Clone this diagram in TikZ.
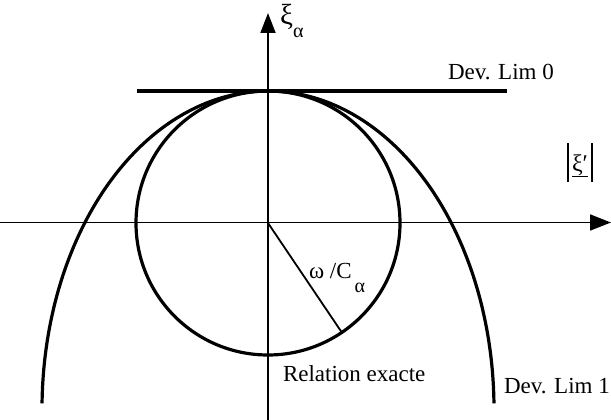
\documentclass[tikz,border=0pt]{standalone}
\usepackage{fontspec}
\setmainfont{Liberation Serif}
\usetikzlibrary{arrows.meta}
\begin{document}
\begin{tikzpicture}[x=1pt,y=-1pt,
  curve/.style={line width=3.2pt},
  axis/.style={line width=1.8pt},
  lbl/.style={inner sep=0pt, outer sep=0pt, font=\fontsize{23}{27}\selectfont}]
\useasboundingbox (0,0) rectangle (611,420);
\fill[white] (0,0) rectangle (611,420);
% axes
\coordinate (xL) at (0,222.5);
\coordinate (xR) at (611,222.5);
\coordinate (yB) at (268,420);
\coordinate (yT) at (268,13);
\draw[axis,-{Triangle[length=21pt,width=16pt]}] (xL) -- (xR);
\draw[axis,-{Triangle[length=20pt,width=15pt]}] (yB) -- (yT);
% exact relation: circle
\node[draw, circle, line width=3.2pt, minimum size=264pt, inner sep=0pt, outer sep=0pt] (C) at (268,223) {};
\draw[axis] (C.center) -- (C.-56);
% Dev. Lim 0 : tangent line
\coordinate (t0L) at (137,91);
\coordinate (t0R) at (507,91);
\draw[curve] (t0L) -- (t0R);
% Dev. Lim 1 : outer curve
\draw[curve] plot[domain=1:179, samples=150, smooth] ({268+226*cos(\x)},{409-318*sin(\x)});
% labels
\node[anchor=base west, inner sep=0pt] (xa) at (280,25)
  {\fontsize{29}{29}\selectfont ξ\raisebox{-13pt}{\fontsize{20}{20}\selectfont α}};
\node[lbl, anchor=base west] (d0) at (448,80) {Dev. Lim 0};
\node[lbl, anchor=base west] (d1) at (504,393) {Dev. Lim 1};
\node[lbl, anchor=base west] (re) at (283,381) {Relation exacte};
\node[lbl, anchor=base west] (om) at (309,278)
  {ω /C\hspace{3pt}\raisebox{-14pt}{\fontsize{20}{20}\selectfont α}};
\node[anchor=base west, inner sep=0pt, font=\fontsize{24}{28}\selectfont] (xp) at (567,171)
  {\rule[-11pt]{1.8pt}{39pt}\hspace{3pt}\underline{ξ′}\hspace{3pt}\rule[-11pt]{1.8pt}{39pt}};
\end{tikzpicture}
\end{document}
